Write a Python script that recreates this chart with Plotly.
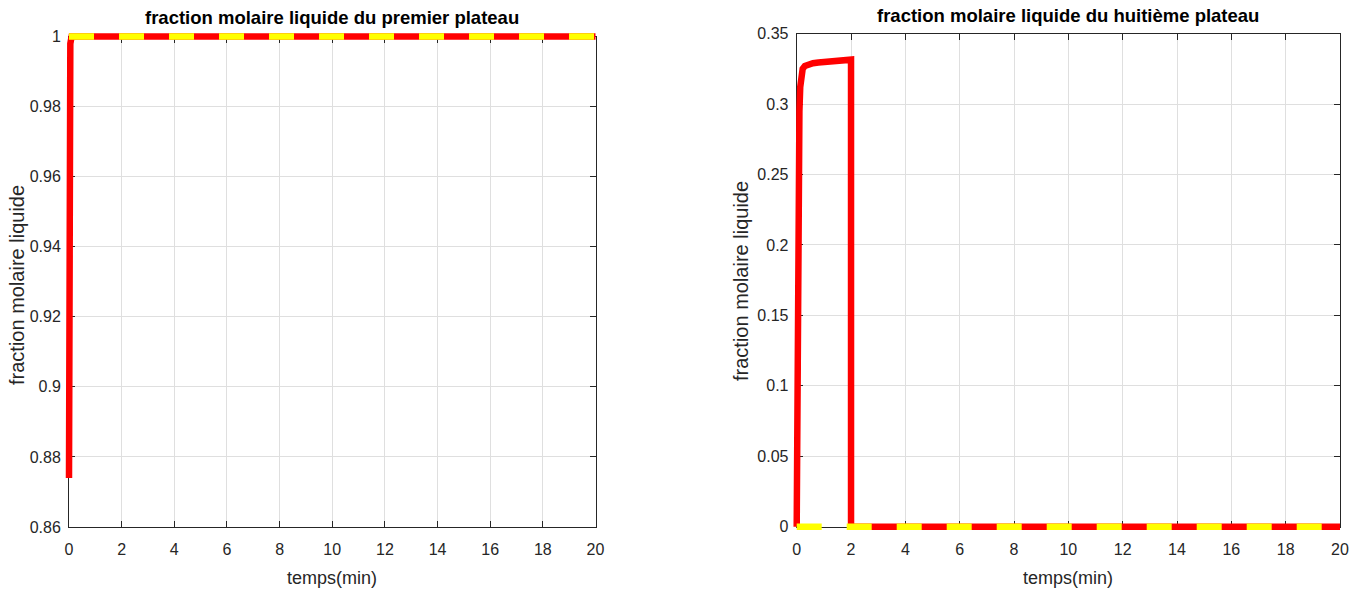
import plotly.graph_objects as go

# ---- data -------------------------------------------------------------
# plateau 1 : liquid mole fraction vs time (min)
t_p1 = [0, 0.01, 0.02, 0.03, 0.05, 0.1, 0.2, 0.5, 1, 2, 4, 6, 8, 10, 12, 14, 16, 18, 20]
x_p1 = [0.874, 0.93, 0.97, 0.99, 0.998, 1, 1, 1, 1, 1, 1, 1, 1, 1, 1, 1, 1, 1, 1]
# reference level, plateau 1
t_ref1 = [0, 20]
x_ref1 = [1, 1]

# plateau 8 : liquid mole fraction vs time (min)
t_p8 = [0, 0.02, 0.04, 0.06, 0.08, 0.1, 0.13, 0.17, 0.22, 0.3, 0.4, 0.6, 0.8,
        1.0, 1.3, 1.6, 2.0, 2.0, 3, 4, 6, 8, 10, 12, 14, 16, 18, 20]
x_p8 = [0, 0.09, 0.17, 0.23, 0.27, 0.295, 0.312, 0.321, 0.325, 0.327, 0.328, 0.329, 0.3295,
        0.330, 0.3305, 0.331, 0.3315, 0, 0, 0, 0, 0, 0, 0, 0, 0, 0, 0]
# reference level, plateau 8
t_ref8 = [0, 20]
x_ref8 = [0, 0]

# ---- axes ticks -------------------------------------------------------
t_ticks = [0, 2, 4, 6, 8, 10, 12, 14, 16, 18, 20]
t_ticktext = ["0", "2", "4", "6", "8", "10", "12", "14", "16", "18", "20"]
y1_ticks = [0.86, 0.88, 0.9, 0.92, 0.94, 0.96, 0.98, 1]
y1_ticktext = ["0.86", "0.88", "0.9", "0.92", "0.94", "0.96", "0.98", "1"]
y8_ticks = [0, 0.05, 0.1, 0.15, 0.2, 0.25, 0.3, 0.35]
y8_ticktext = ["0", "0.05", "0.1", "0.15", "0.2", "0.25", "0.3", "0.35"]

titles = ["fraction molaire liquide du premier plateau",
          "fraction molaire liquide du huitième plateau"]
xlabel = "temps(min)"
ylabel = "fraction molaire liquide"

# ---- figure geometry (pixels) ----------------------------------------
W, H = 1363, 592
# axes boxes: left, right, top, bottom
box1 = (69.0, 595.5, 36.6, 527.0)
box8 = (796.7, 1340.0, 33.6, 526.7)
x_range = [0, 20]
y1_range = [0.86, 1]
y8_range = [0, 0.35]
PAD = 8  # px of room so thick lines on the box edges are not clipped

INK = "#262626"
GRID = "#dfdfdf"
RED = "#ff0000"
YELLOW = "#ffff00"
FONT = "Liberation Sans, Arial, sans-serif"


def xdom(box):
    return [box[0] / W, box[1] / W]


def ydom(box):
    return [1 - box[3] / H, 1 - box[2] / H]


def padded(box, xr, yr):
    l, r, t, b = box
    ux = (xr[1] - xr[0]) / (r - l)
    uy = (yr[1] - yr[0]) / (b - t)
    pbox = (l - PAD, r + PAD, t - PAD, b + PAD)
    pxr = [xr[0] - PAD * ux, xr[1] + PAD * ux]
    pyr = [yr[0] - PAD * uy, yr[1] + PAD * uy]
    return pbox, pxr, pyr


fig = go.Figure()

# empty traces so the framed subplots exist
fig.add_trace(go.Scatter(x=[], y=[], xaxis="x", yaxis="y", showlegend=False))
fig.add_trace(go.Scatter(x=[], y=[], xaxis="x2", yaxis="y2", showlegend=False))

# data layers
fig.add_trace(go.Scatter(x=t_p1, y=x_p1, mode="lines", xaxis="x3", yaxis="y3",
                         line=dict(color=RED, width=6.5), showlegend=False,
                         hoverinfo="skip"))
fig.add_trace(go.Scatter(x=t_ref1, y=x_ref1, mode="lines", xaxis="x3", yaxis="y3",
                         line=dict(color=YELLOW, width=6.5, dash="25px,25px"),
                         showlegend=False, hoverinfo="skip"))
fig.add_trace(go.Scatter(x=t_p8, y=x_p8, mode="lines", xaxis="x4", yaxis="y4",
                         line=dict(color=RED, width=6.5), showlegend=False,
                         hoverinfo="skip"))
fig.add_trace(go.Scatter(x=t_ref8, y=x_ref8, mode="lines", xaxis="x4", yaxis="y4",
                         line=dict(color=YELLOW, width=6.5, dash="25px,25px"),
                         showlegend=False, hoverinfo="skip"))

tickfont = dict(family=FONT, size=16, color=INK)


def frame_axis(dom, rng, ticks, text, anchor, standoff):
    return dict(domain=dom, range=rng, anchor=anchor, tickvals=ticks, ticktext=text,
                showline=True, linecolor=INK, linewidth=1, mirror="allticks",
                ticks="inside", ticklen=6, tickcolor=INK, tickwidth=1,
                showgrid=True, gridcolor=GRID, gridwidth=1, zeroline=False,
                tickfont=tickfont, ticklabelstandoff=standoff, fixedrange=True)


def hidden_axis(dom, rng, anchor):
    return dict(domain=dom, range=rng, anchor=anchor, visible=False,
                showgrid=False, zeroline=False, fixedrange=True)


p1box, p1x, p1y = padded(box1, x_range, y1_range)
p8box, p8x, p8y = padded(box8, x_range, y8_range)

fig.update_layout(
    width=W, height=H,
    autosize=False,
    margin=dict(l=0, r=0, t=0, b=0, autoexpand=False),
    paper_bgcolor="white",
    plot_bgcolor="rgba(0,0,0,0)",
    showlegend=False,
    xaxis=frame_axis(xdom(box1), x_range, t_ticks, t_ticktext, "y", 8),
    yaxis=frame_axis(ydom(box1), y1_range, y1_ticks, y1_ticktext, "x", 4),
    xaxis2=frame_axis(xdom(box8), x_range, t_ticks, t_ticktext, "y2", 8),
    yaxis2=frame_axis(ydom(box8), y8_range, y8_ticks, y8_ticktext, "x2", 4),
    xaxis3=hidden_axis(xdom(p1box), p1x, "y3"),
    yaxis3=hidden_axis(ydom(p1box), p1y, "x3"),
    xaxis4=hidden_axis(xdom(p8box), p8x, "y4"),
    yaxis4=hidden_axis(ydom(p8box), p8y, "x4"),
)

annotations = []
for box, title, ytitle_px in ((box1, titles[0], 18), (box8, titles[1], 16)):
    cx = (box[0] + box[1]) / 2 / W
    annotations.append(dict(text="<b>%s</b>" % title, x=cx, y=1 - ytitle_px / H,
                            xref="paper", yref="paper", xanchor="center", yanchor="middle",
                            showarrow=False, font=dict(family=FONT, size=18.5, color="black")))
    annotations.append(dict(text=xlabel, x=cx, y=1 - 578 / H,
                            xref="paper", yref="paper", xanchor="center", yanchor="middle",
                            showarrow=False, font=dict(family=FONT, size=18, color=INK)))
annotations.append(dict(text=ylabel, x=17 / W, y=1 - 285 / H,
                        xref="paper", yref="paper", xanchor="center", yanchor="middle",
                        textangle=-90, showarrow=False,
                        font=dict(family=FONT, size=20, color=INK)))
annotations.append(dict(text=ylabel, x=741 / W, y=1 - 281 / H,
                        xref="paper", yref="paper", xanchor="center", yanchor="middle",
                        textangle=-90, showarrow=False,
                        font=dict(family=FONT, size=20, color=INK)))
fig.update_layout(annotations=annotations)

# page without body margin so the figure sits at the window origin
page_css = ("document.documentElement.style.margin='0';"
            "document.body.style.margin='0';"
            "document.body.style.overflow='hidden';")

fig.write_html("out.html", config={"displayModeBar": False, "responsive": False},
               post_script=page_css)
